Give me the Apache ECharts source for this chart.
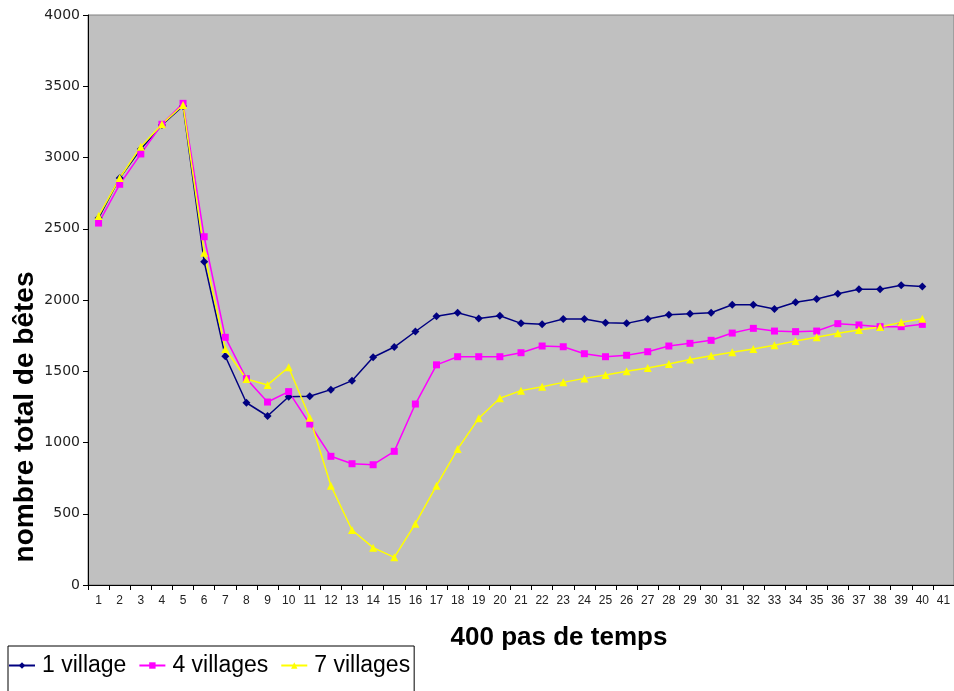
<!DOCTYPE html>
<html>
<head>
<meta charset="utf-8">
<script src="https://cdn.jsdelivr.net/npm/echarts@6/dist/echarts.min.js"></script>
<style>
html,body{margin:0;padding:0;background:#fff;}
#chart{width:954px;height:691px;}
</style>
</head>
<body>
<div id="chart"></div>
<script>
const categories = ['1','2','3','4','5','6','7','8','9','10','11','12','13','14','15','16','17','18','19','20','21','22','23','24','25','26','27','28','29','30','31','32','33','34','35','36','37','38','39','40','41'];
const seriesNames = ['1 village', '4 villages', '7 villages'];
const village1 = [2575, 2856, 3060, 3228, 3361, 2269, 1605, 1279, 1186, 1321, 1324, 1371, 1434, 1598, 1670, 1779, 1886, 1911, 1871, 1890, 1836, 1829, 1867, 1867, 1841, 1836, 1867, 1897, 1903, 1911, 1967, 1967, 1937, 1984, 2007, 2044, 2075, 2075, 2103, 2094];
const villages4 = [2540, 2812, 3025, 3233, 3380, 2444, 1738, 1448, 1284, 1357, 1130, 903, 851, 844, 938, 1270, 1545, 1602, 1602, 1602, 1630, 1677, 1672, 1623, 1602, 1612, 1637, 1677, 1696, 1717, 1768, 1801, 1782, 1778, 1782, 1834, 1825, 1813, 1813, 1829];
const villages7 = [2589, 2856, 3076, 3233, 3368, 2332, 1656, 1446, 1404, 1528, 1174, 697, 386, 262, 194, 430, 697, 954, 1170, 1310, 1364, 1392, 1422, 1450, 1474, 1500, 1523, 1551, 1582, 1609, 1633, 1656, 1682, 1712, 1738, 1766, 1789, 1811, 1843, 1869];
const yTicks = [0, 4000, 500];
const xTitle = '400 pas de temps';
const yTitle = 'nombre total de bêtes';

const chart = echarts.init(document.getElementById('chart'), null, {renderer: 'canvas'});
const font = 'Liberation Sans, Arial, sans-serif';
function mk(name, data, color, symbol, size) {
  return {
    name: name, type: 'line', data: data,
    symbol: symbol, symbolSize: size, showSymbol: true,
    lineStyle: {color: color, width: 1.5},
    itemStyle: {color: color},
    emphasis: {disabled: true},
    animation: false
  };
}
chart.setOption({
  animation: false,
  grid: {left: 88, top: 15, right: 0, bottom: 106, show: true, backgroundColor: '#C0C0C0', borderColor: '#808080', borderWidth: 1},
  xAxis: {
    type: 'category', data: categories, boundaryGap: true,
    axisLine: {lineStyle: {color: '#000', width: 1}},
    axisTick: {show: true, length: 5, lineStyle: {color: '#000'}},
    axisLabel: {color: '#222', fontSize: 12, fontFamily: font, margin: 10, interval: 0},
    splitLine: {show: false}
  },
  yAxis: {
    type: 'value', min: yTicks[0], max: yTicks[1], interval: yTicks[2],
    axisLine: {show: true, lineStyle: {color: '#000', width: 1}},
    axisTick: {show: true, length: 5, lineStyle: {color: '#000'}},
    axisLabel: {color: '#222', fontSize: 14, fontFamily: 'DejaVu Sans, sans-serif', margin: 8, formatter: function (v) { return String(v); }},
    splitLine: {show: false}
  },
  legend: {
    data: seriesNames, left: 8, top: 646, orient: 'horizontal',
    padding: [8, 4, 30, 0], itemGap: 12, itemWidth: 26, itemHeight: 8,
    borderColor: '#000', borderWidth: 1, backgroundColor: '#fff',
    textStyle: {fontSize: 23, fontFamily: font, color: '#000', padding: [0, 0, 0, 2]}
  },
  graphic: [
    {type: 'text', x: 559, y: 638, style: {text: xTitle, font: 'bold 26px Liberation Sans, Arial, sans-serif', fill: '#000', align: 'center', verticalAlign: 'middle'}},
    {type: 'text', x: 25, y: 417, rotation: Math.PI / 2, style: {text: yTitle, font: 'bold 28px Liberation Sans, Arial, sans-serif', fill: '#000', align: 'center', verticalAlign: 'middle'}}
  ],
  series: [
    mk(seriesNames[0], village1, '#000080', 'diamond', 8),
    mk(seriesNames[1], villages4, '#FF00FF', 'rect', 7),
    mk(seriesNames[2], villages7, '#FFFF00', 'triangle', 8)
  ]
});
</script>
</body>
</html>
